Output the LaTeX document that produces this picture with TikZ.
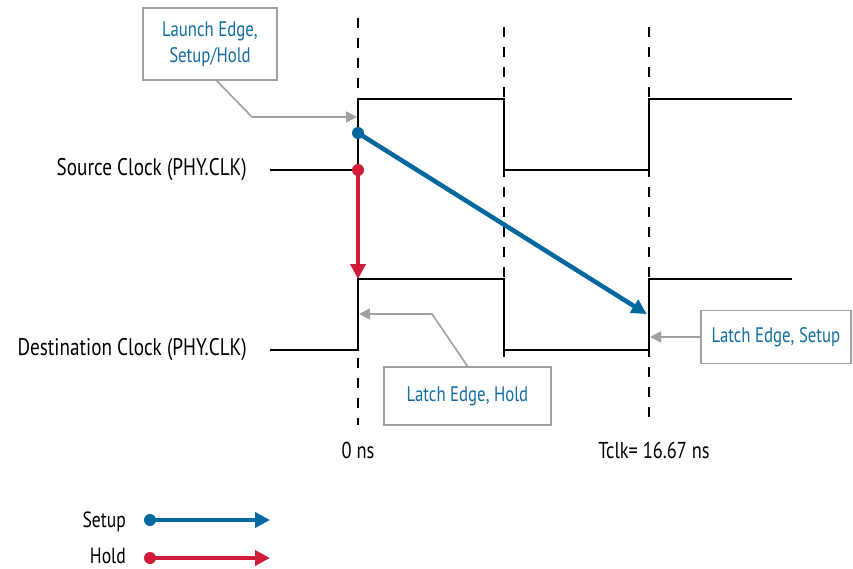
\documentclass[tikz,border=0pt]{standalone}
\usepackage{fontspec}
\setmainfont{PT Sans}[FakeStretch=0.8]
\usetikzlibrary{arrows.meta}
\definecolor{setupblue}{RGB}{0,104,158}
\definecolor{holdred}{RGB}{206,28,58}
\definecolor{leadgray}{RGB}{160,160,160}
\definecolor{txtblue}{RGB}{20,110,160}
\tikzset{
  clk/.style={line width=2pt, black, line join=miter},
  grid/.style={line width=1.6pt, black, dash pattern=on 10pt off 10pt},
  callout/.style={draw=leadgray, line width=1.6pt, fill=white, text=txtblue, font=\fontsize{21}{26}\selectfont, align=center, inner sep=0pt},
  leader/.style={draw=leadgray, line width=1.6pt, -{Triangle[length=11pt,width=11pt]}},
  setuparrow/.style={draw=setupblue, line width=4.5pt, -{Triangle[length=15pt,width=15pt]}, shorten >=-2pt},
  holdarrow/.style={draw=holdred, line width=4.5pt, -{Triangle[length=15pt,width=15pt]}},
  sigtext/.style={font=\fontsize{24}{28}\selectfont, anchor=east, inner sep=0pt},
  axtext/.style={font=\fontsize{23}{27}\selectfont, inner sep=0pt},
  legtext/.style={font=\fontsize{22}{26}\selectfont, anchor=base east, inner sep=0pt, text depth=0pt},
}
\begin{document}
\begin{tikzpicture}[x=1pt,y=-1pt]
\useasboundingbox (0,0) rectangle (853,569);
% dashed reference lines
\coordinate (g1t) at (358,18); \coordinate (g1b) at (358,425);
\coordinate (g2t) at (504,27); \coordinate (g2b) at (504,425);
\coordinate (g3t) at (649,27); \coordinate (g3b) at (649,425);
\draw[grid] (g1t) -- (g1b);
\draw[grid] (g2t) -- (g2b);
\draw[grid] (g3t) -- (g3b);
% source clock
\draw[clk] (270,170) -- (358,170) -- (358,99) -- (504,99) -- (504,170) -- (649,170) -- (649,99) -- (792,99);
% destination clock
\draw[clk] (270,350) -- (358,350) -- (358,279) -- (504,279) -- (504,350) -- (649,350) -- (649,279) -- (792,279);
% labels
\node[sigtext] (src) at (247,170) {Source Clock (PHY.CLK)};
\node[sigtext] (dst) at (247,350) {Destination Clock (PHY.CLK)};
\node[axtext] (zero) at (358,450) {0 ns};
\node[axtext] (tclk) at (654,450) {Tclk= 16.67 ns};
% setup and hold arrows
\coordinate (sstart) at (358,133);
\coordinate (send) at (645,313);
\coordinate (hstart) at (358,170);
\coordinate (hend) at (358,279);
\draw[setuparrow] (sstart) -- (send);
\fill[setupblue] (sstart) circle (6pt);
\draw[holdarrow] (hstart) -- (hend);
\fill[holdred] (hstart) circle (6pt);
% callouts
\node[callout, minimum width=134pt, minimum height=72pt] (launch) at (210,44) {Launch Edge,\\Setup/Hold};
\coordinate (l1) at (252,117);
\coordinate (l1t) at (357,117);
\draw[leader] (216,80) -- (l1) -- (l1t);
\node[callout, minimum width=167pt, minimum height=58pt] (lhold) at (467.5,396) {Latch Edge, Hold};
\coordinate (l2) at (432,314);
\coordinate (l2t) at (359,314);
\draw[leader] (lhold.north) -- (l2) -- (l2t);
\node[callout, minimum width=150pt, minimum height=53pt] (lsetup) at (776,337) {Latch Edge, Setup};
\coordinate (l3t) at (650,337);
\draw[leader] (lsetup.west) -- (l3t);
% legend
\node[legtext] (lsetuptxt) at (126,527) {Setup};
\node[legtext] (lholdtxt) at (126,563) {Hold};
\coordinate (ls1) at (150,520); \coordinate (ls2) at (270,520);
\coordinate (lh1) at (150,558); \coordinate (lh2) at (270,558);
\draw[setuparrow, shorten >=0pt] (ls1) -- (ls2);
\fill[setupblue] (ls1) circle (6pt);
\draw[holdarrow] (lh1) -- (lh2);
\fill[holdred] (lh1) circle (6pt);
\end{tikzpicture}
\end{document}
